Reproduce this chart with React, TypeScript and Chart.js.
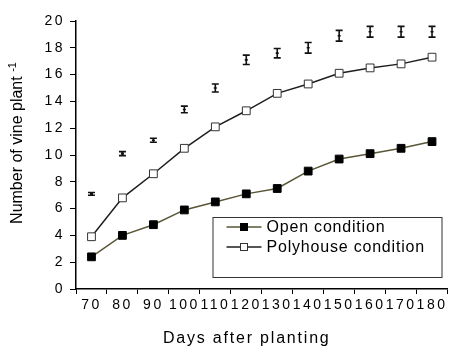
import React, { useEffect, useRef } from "react";
import { Chart, registerables } from "chart.js";

Chart.register(...registerables);

const days = ["70", "80", "90", "100", "110", "120", "130", "140", "150", "160", "170", "180"];
const openCondition = [2.4, 4.0, 4.8, 5.9, 6.5, 7.1, 7.5, 8.8, 9.7, 10.1, 10.5, 11.0];
const polyhouseCondition = [3.9, 6.8, 8.6, 10.5, 12.1, 13.3, 14.6, 15.3, 16.1, 16.5, 16.8, 17.3];
const errorMean = [7.1, 10.1, 11.1, 13.4, 15.0, 17.1, 17.6, 18.0, 18.9, 19.2, 19.2, 19.2];
const errorHalf = [0.1, 0.15, 0.15, 0.25, 0.3, 0.35, 0.35, 0.4, 0.4, 0.4, 0.4, 0.4];
const yMin = 0;
const yMax = 20;
const yStep = 2;
const xTitle = "Days after planting";
const yTitle = "Number of vine plant";
const yTitleSup = "-1";

const FONT = '"Liberation Sans", Arial, sans-serif';

const customPlugin = {
  id: "customPlugin",
  beforeDraw(chart: any) {
    (chart.ctx as any).letterSpacing = "2.5px";
  },
  afterDatasetsDraw(chart: any) {
    const ctx = chart.ctx as CanvasRenderingContext2D;
    const xs = chart.scales.x;
    const ys = chart.scales.y;
    ctx.save();
    ctx.strokeStyle = "#111";
    ctx.lineWidth = 1.6;
    for (let i = 0; i < errorMean.length; i++) {
      const x = xs.getPixelForValue(i);
      const yTop = ys.getPixelForValue(errorMean[i] + errorHalf[i]);
      const yBot = ys.getPixelForValue(errorMean[i] - errorHalf[i]);
      const yMid = ys.getPixelForValue(errorMean[i]);
      const cap = 3.5;
      ctx.beginPath();
      ctx.moveTo(x, yTop);
      ctx.lineTo(x, yBot);
      ctx.moveTo(x - cap, yTop);
      ctx.lineTo(x + cap, yTop);
      ctx.moveTo(x - cap, yBot);
      ctx.lineTo(x + cap, yBot);
      ctx.moveTo(x - 1.5, yMid);
      ctx.lineTo(x + 1.5, yMid);
      ctx.stroke();
    }
    ctx.restore();
  },
  afterDraw(chart: any) {
    const ctx = chart.ctx as any;
    const area = chart.chartArea;
    ctx.save();
    ctx.fillStyle = "#000";
    // x title
    ctx.letterSpacing = "1.8px";
    ctx.font = "16px " + FONT;
    ctx.textAlign = "center";
    ctx.textBaseline = "middle";
    ctx.fillText(xTitle, (area.left + area.right) / 2 - 15, chart.height - 12);
    // y title
    ctx.letterSpacing = "0px";
    ctx.save();
    ctx.translate(18, (area.top + area.bottom) / 2 - 12);
    ctx.rotate(-Math.PI / 2);
    ctx.font = "16px " + FONT;
    const w = ctx.measureText(yTitle + " ").width;
    ctx.font = "11px " + FONT;
    const ws = ctx.measureText(yTitleSup).width;
    const start = -(w + ws) / 2;
    ctx.textAlign = "left";
    ctx.font = "16px " + FONT;
    ctx.fillText(yTitle + " ", start, 0);
    ctx.font = "11px " + FONT;
    ctx.fillText(yTitleSup, start + w, -5);
    ctx.restore();

    // legend
    const bx = area.right - 235;
    const by = area.top + 196;
    const bw = 229;
    const bh = 60;
    ctx.fillStyle = "#fff";
    ctx.fillRect(bx, by, bw, bh);
    ctx.strokeStyle = "#333";
    ctx.lineWidth = 1;
    ctx.strokeRect(bx + 0.5, by + 0.5, bw, bh);
    ctx.letterSpacing = "0.8px";
    ctx.font = "16px " + FONT;
    ctx.textAlign = "left";
    ctx.textBaseline = "middle";
    chart.data.datasets.forEach((ds: any, i: number) => {
      const y = by + 10 + i * 20;
      const x0 = bx + 14;
      const x1 = bx + 49;
      ctx.strokeStyle = ds.borderColor;
      ctx.lineWidth = 1.5;
      ctx.beginPath();
      ctx.moveTo(x0, y);
      ctx.lineTo(x1, y);
      ctx.stroke();
      const s = 7;
      ctx.fillStyle = ds.pointBackgroundColor;
      ctx.fillRect((x0 + x1) / 2 - s / 2, y - s / 2, s, s);
      ctx.strokeStyle = ds.pointBorderColor;
      ctx.lineWidth = 1;
      ctx.strokeRect((x0 + x1) / 2 - s / 2, y - s / 2, s, s);
      ctx.fillStyle = "#000";
      ctx.fillText(ds.label, bx + 54, y + 1);
    });
    ctx.restore();
  },
};

export default function App() {
  const ref = useRef<HTMLCanvasElement | null>(null);
  useEffect(() => {
    if (!ref.current) return;
    const chart = new Chart(ref.current, {
      type: "line",
      data: {
        labels: days,
        datasets: [
          {
            label: "Open condition",
            data: openCondition,
            borderColor: "#5a5636",
            borderWidth: 1.5,
            pointStyle: "rect",
            pointRadius: 5.5,
            pointBackgroundColor: "#000",
            pointBorderColor: "#000",
            pointBorderWidth: 1,
            tension: 0,
          },
          {
            label: "Polyhouse condition",
            data: polyhouseCondition,
            borderColor: "#1e1e1e",
            borderWidth: 1.5,
            pointStyle: "rect",
            pointRadius: 5.5,
            pointBackgroundColor: "#fff",
            pointBorderColor: "#333",
            pointBorderWidth: 1,
            tension: 0,
          },
        ],
      },
      options: {
        animation: false,
        responsive: false,
        devicePixelRatio: 1,
        layout: { padding: { top: 21, right: 0, left: 0, bottom: 0 } },
        plugins: {
          legend: { display: false },
          tooltip: { enabled: false },
          title: { display: false },
        },
        scales: {
          x: {
            type: "category",
            offset: true,
            grid: {
              offset: true,
              drawOnChartArea: false,
              drawTicks: true,
              tickLength: 5,
              color: "#000",
              lineWidth: 1,
            },
            border: { display: true, color: "#000", width: 1.5 },
            ticks: {
              color: "#000",
              font: { family: FONT, size: 14 },
              padding: 3,
              maxRotation: 0,
              autoSkip: false,
            },
            afterFit: (scale: any) => {
              scale.height = 62;
            },
          },
          y: {
            min: yMin,
            max: yMax,
            grid: {
              drawOnChartArea: false,
              drawTicks: true,
              tickLength: 6,
              color: "#000",
              lineWidth: 1,
            },
            border: { display: true, color: "#000", width: 1.5 },
            ticks: {
              stepSize: yStep,
              color: "#000",
              font: { family: FONT, size: 14 },
              padding: 5,
            },
            afterFit: (scale: any) => {
              scale.width = 76;
            },
          },
        },
      },
      plugins: [customPlugin],
    } as any);
    return () => chart.destroy();
  }, []);
  return (
    <div style={{ position: "absolute", left: 0, top: 0, width: 454, height: 351, background: "#fff" }}>
      <canvas ref={ref} width={454} height={351} style={{ width: 454, height: 351, display: "block" }} />
    </div>
  );
}
